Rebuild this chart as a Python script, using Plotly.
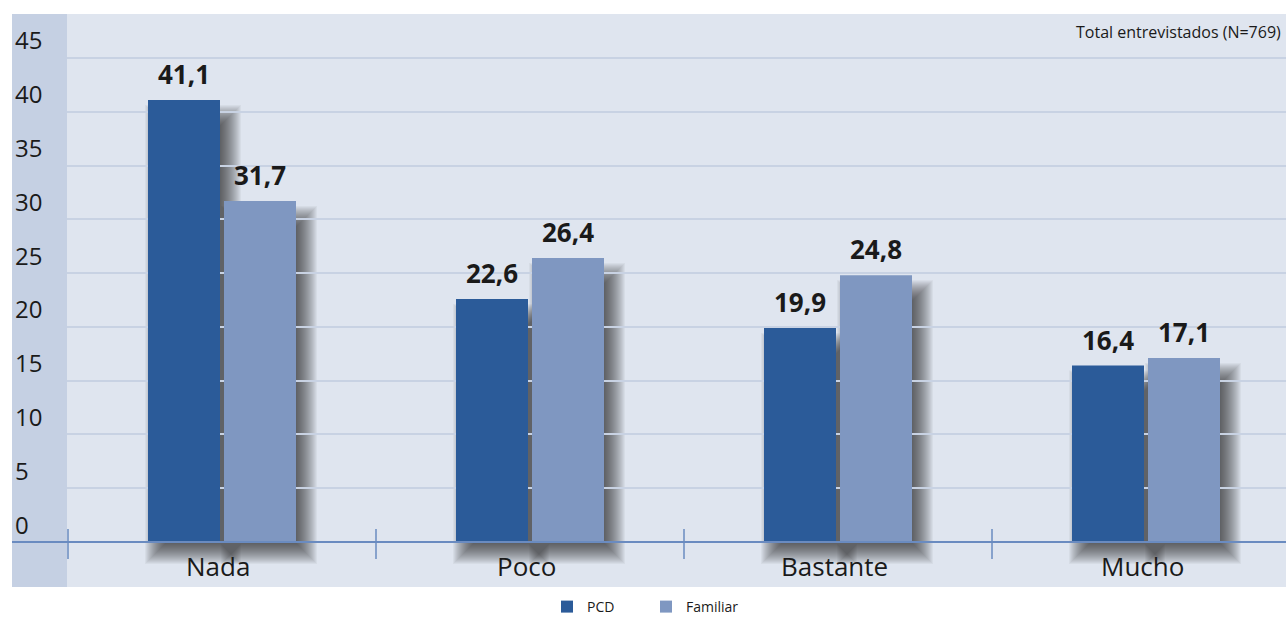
import plotly.graph_objects as go

# --- data -------------------------------------------------------------
categories = ["Nada", "Poco", "Bastante", "Mucho"]
pcd = [41.1, 22.6, 19.9, 16.4]
familiar = [31.7, 26.4, 24.8, 17.1]
series_names = ["PCD", "Familiar"]
y_ticks = [0, 5, 10, 15, 20, 25, 30, 35, 40, 45]
note = "Total entrevistados (N=769)"

# --- styling / geometry ------------------------------------------------
W, H = 1286, 618
M_L, M_R, M_T, M_B = 67, 0, 14, 31
PLOT_W = W - M_L - M_R
PLOT_H = H - M_T - M_B
KX = 308.0            # px per category
KY = 10.756           # px per unit on y
ZERO_PX = 45          # distance from plot bottom to y=0 (px)
Y_MIN = -ZERO_PX / KY
Y_MAX = (PLOT_H - ZERO_PX) / KY
X_MIN = -0.5 - 1.0 / KX
X_MAX = X_MIN + PLOT_W / KX

BAR_W = 72.0
SLOT = 76.0
bargap = 1 - 2 * SLOT / KX
bargroupgap = (SLOT - BAR_W) / SLOT

C_PCD = "#2b5b99"
C_FAM = "#7f97c1"
C_BG = "#dfe5ef"
C_COL = "#c5d0e3"
C_GRID = "#c8d2e3"
C_AXIS = "#6a8bc0"
C_TEXT = "#1a1a1a"
FONT = "Open Sans"


def fmt(v):
    return f"{v:.1f}".replace(".", ",")


fig = go.Figure()
for name, vals, col in [(series_names[0], pcd, C_PCD), (series_names[1], familiar, C_FAM)]:
    fig.add_trace(go.Bar(
        name=name, x=categories, y=vals, marker=dict(color=col, line=dict(width=0)),
        hoverinfo="skip",
    ))

shapes = []
annotations = []

# left label column
col_x0 = (12 - M_L) / PLOT_W
shapes.append(dict(type="rect", xref="paper", yref="paper", x0=col_x0, x1=0, y0=0, y1=1,
                   fillcolor=C_COL, line=dict(width=0), layer="below"))

# soft drop shadows behind each bar (stacked translucent rectangles)
DX, DY_TOP, DY_BOT = 9, 17, 10
spreads = list(range(-12, 13))
for s, vals in enumerate([pcd, familiar]):
    off = (-0.5 if s == 0 else 0.5) * SLOT / KX
    for i, v in enumerate(vals):
        xc = i + off
        hw = BAR_W / 2 / KX
        for e in spreads:
            shapes.append(dict(
                type="rect", xref="x", yref="y", layer="below",
                x0=xc - hw + (DX - e) / KX, x1=xc + hw + (DX + e) / KX,
                y0=-(DY_BOT + e) / KY, y1=v - (DY_TOP - e) / KY,
                fillcolor="#202020", opacity=0.044, line=dict(width=0),
            ))
        # value label
        annotations.append(dict(
            xref="x", yref="y", x=xc, y=v, text=f"<b>{fmt(v)}</b>", showarrow=False,
            yanchor="bottom", yshift=6, font=dict(family=FONT, size=26, color=C_TEXT),
        ))

# axis baseline across the whole panel
zero_paper = ZERO_PX / PLOT_H
shapes.append(dict(type="line", xref="paper", yref="paper", x0=col_x0, x1=1,
                   y0=zero_paper, y1=zero_paper, line=dict(color=C_AXIS, width=2), layer="above"))

# category boundary ticks
for b in range(len(categories)):
    shapes.append(dict(type="line", xref="x", yref="y", x0=b - 0.5, x1=b - 0.5,
                       y0=-17 / KY, y1=13 / KY, line=dict(color=C_AXIS, width=1.5), layer="above"))

# category labels
for i, c in enumerate(categories):
    annotations.append(dict(xref="x", yref="y", x=i, y=-24 / KY, text=c, showarrow=False,
                            xshift=-4, yanchor="middle",
                            font=dict(family=FONT, size=26, color=C_TEXT)))

# y tick labels, left aligned in the label column
for t in y_ticks:
    annotations.append(dict(xref="paper", yref="y", x=(13 - M_L) / PLOT_W, y=t, text=str(t),
                            showarrow=False, xanchor="left", yanchor="middle", yshift=18,
                            font=dict(family=FONT, size=24, color=C_TEXT)))

annotations.append(dict(xref="paper", yref="paper", x=1, y=(PLOT_H - 18) / PLOT_H, text=note,
                        showarrow=False, xanchor="right", xshift=-3, yanchor="middle",
                        font=dict(family=FONT, size=16, color=C_TEXT)))

fig.update_layout(
    width=W, height=H,
    margin=dict(l=M_L, r=M_R, t=M_T, b=M_B, pad=0, autoexpand=False),
    paper_bgcolor="white", plot_bgcolor=C_BG,
    barmode="group", bargap=bargap, bargroupgap=bargroupgap,
    shapes=shapes, annotations=annotations,
    showlegend=True,
    legend=dict(orientation="h", x=(547 - M_L) / PLOT_W, xanchor="left",
                y=-20 / PLOT_H, yanchor="middle", entrywidth=54, entrywidthmode="pixels",
                font=dict(family=FONT, size=14, color=C_TEXT), bgcolor="rgba(0,0,0,0)"),
    xaxis=dict(range=[X_MIN, X_MAX], showticklabels=False, showgrid=False, zeroline=False,
               showline=False, ticks=""),
    yaxis=dict(range=[Y_MIN, Y_MAX], tickvals=y_ticks[1:], showticklabels=False,
               showgrid=True, gridcolor=C_GRID, gridwidth=2, zeroline=False, showline=False,
               ticks=""),
)

fig.write_html("out.html")
